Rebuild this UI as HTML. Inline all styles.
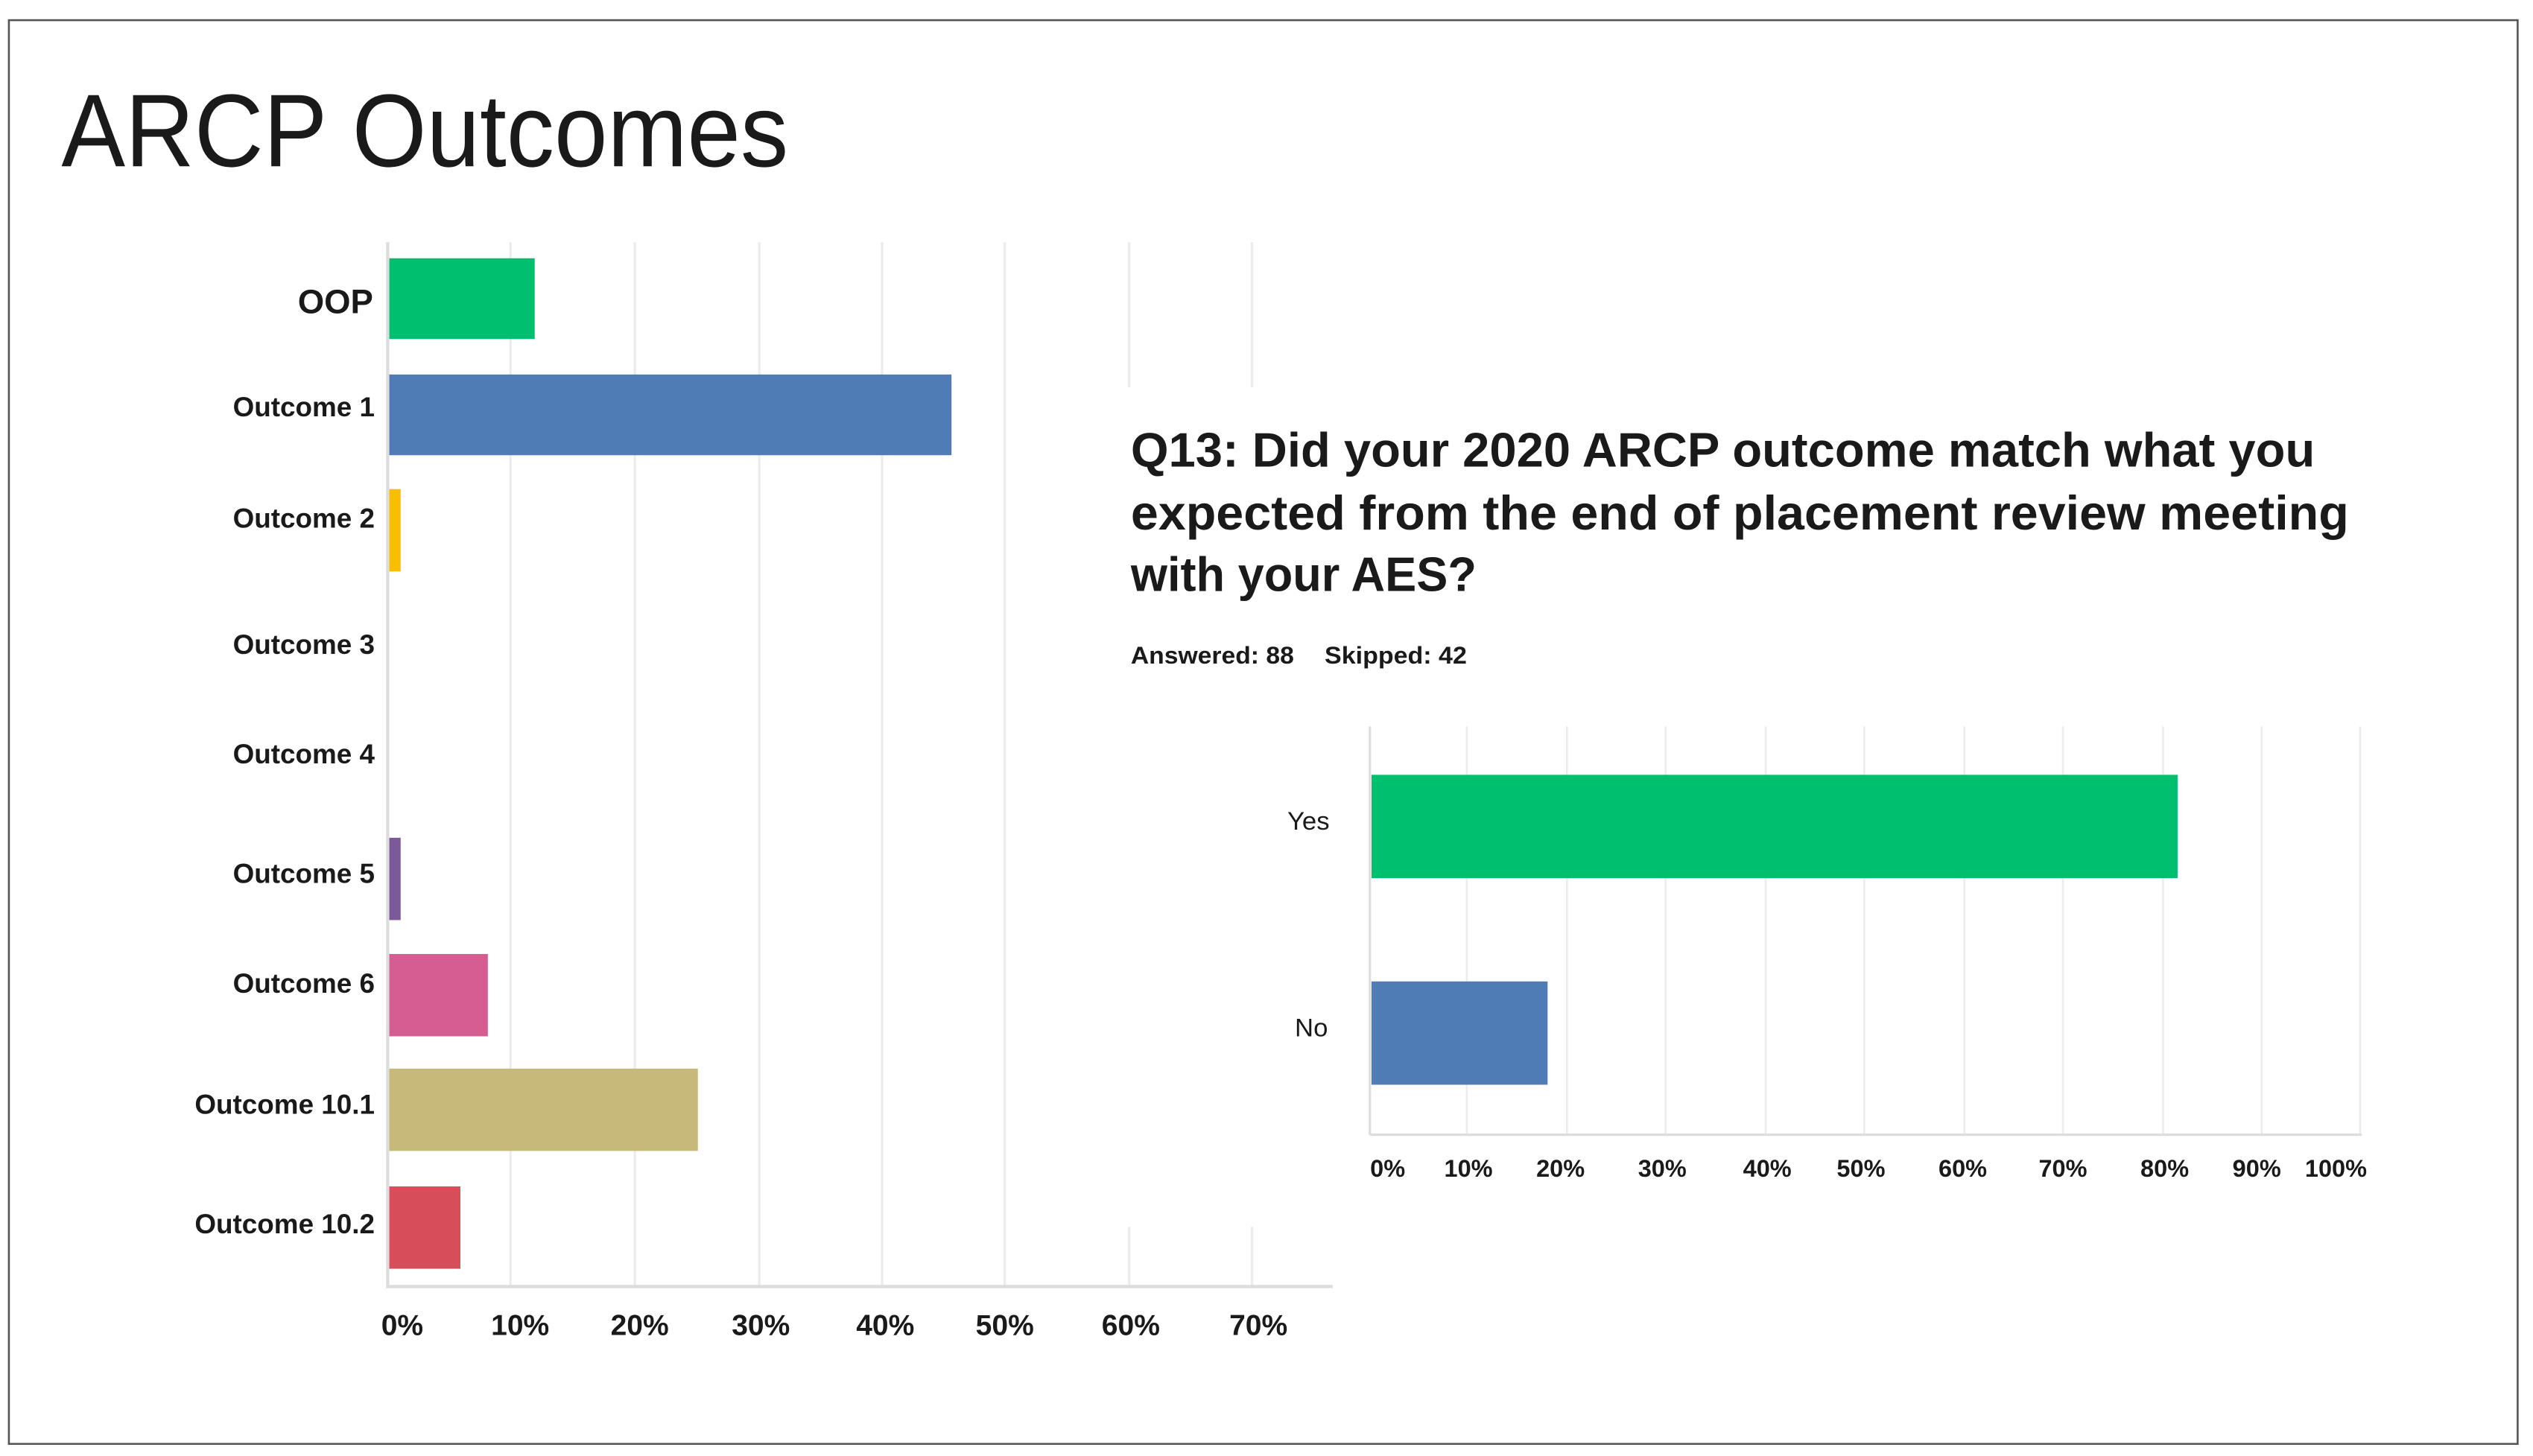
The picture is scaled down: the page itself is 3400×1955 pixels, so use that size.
<!DOCTYPE html>
<html><head><meta charset="utf-8"><style>
html,body{margin:0;padding:0;background:#fff;}
svg{display:block;}
text{font-family:"Liberation Sans",sans-serif;fill:#1a1a1a;}
</style></head><body>
<svg width="3400" height="1955" viewBox="0 0 1568 902" preserveAspectRatio="none" xmlns="http://www.w3.org/2000/svg">
<rect x="0" y="0" width="1568" height="902" fill="#fff"/>
<rect x="5.5" y="12.5" width="1553" height="882" fill="none" stroke="#555" stroke-width="1.2"/>
<text x="38" y="103" font-size="64" textLength="450" lengthAdjust="spacingAndGlyphs">ARCP Outcomes</text>
<g stroke="#ececec" stroke-width="1.5">
<line x1="316" y1="150" x2="316" y2="797"/>
<line x1="393" y1="150" x2="393" y2="797"/>
<line x1="470" y1="150" x2="470" y2="797"/>
<line x1="546" y1="150" x2="546" y2="797"/>
<line x1="622" y1="150" x2="622" y2="797"/>
<line x1="699" y1="150" x2="699" y2="797"/>
<line x1="775" y1="150" x2="775" y2="797"/>
</g>
<rect x="688" y="240" width="140" height="520" fill="#fff"/>
<line x1="240" y1="150" x2="240" y2="798" stroke="#ddd" stroke-width="2"/>
<line x1="240" y1="797" x2="825" y2="797" stroke="#ddd" stroke-width="2"/>
<rect x="241" y="160" width="90" height="50" fill="#00bf6f"/>
<rect x="241" y="232" width="348" height="50" fill="#507cb6"/>
<rect x="241" y="303" width="7" height="51" fill="#f9be00"/>
<rect x="241" y="519" width="7" height="51" fill="#7c5a99"/>
<rect x="241" y="591" width="61" height="51" fill="#d65d91"/>
<rect x="241" y="662" width="191" height="51" fill="#c6b97a"/>
<rect x="241" y="735" width="44" height="51" fill="#d74d5a"/>
<g font-weight="bold" text-anchor="end" font-size="17">
<text x="231" y="194" font-size="21">OOP</text>
<text x="232" y="258">Outcome 1</text>
<text x="232" y="327">Outcome 2</text>
<text x="232" y="405">Outcome 3</text>
<text x="232" y="473">Outcome 4</text>
<text x="232" y="547">Outcome 5</text>
<text x="232" y="615">Outcome 6</text>
<text x="232" y="690">Outcome 10.1</text>
<text x="232" y="764">Outcome 10.2</text>
</g>
<g font-weight="bold" text-anchor="middle" font-size="18">
<text x="249" y="827">0%</text>
<text x="322" y="827">10%</text>
<text x="396" y="827">20%</text>
<text x="471" y="827">30%</text>
<text x="548" y="827">40%</text>
<text x="622" y="827">50%</text>
<text x="700" y="827">60%</text>
<text x="779" y="827">70%</text>
</g>
<g font-weight="bold" font-size="30">
<text x="700" y="289" textLength="733" lengthAdjust="spacingAndGlyphs">Q13: Did your 2020 ARCP outcome match what you</text>
<text x="700" y="328" textLength="754" lengthAdjust="spacingAndGlyphs">expected from the end of placement review meeting</text>
<text x="700" y="366" textLength="214" lengthAdjust="spacingAndGlyphs">with your AES?</text>
</g>
<text x="700" y="411" font-size="15" font-weight="bold" textLength="101" lengthAdjust="spacingAndGlyphs">Answered: 88</text>
<text x="820" y="411" font-size="15" font-weight="bold" textLength="88" lengthAdjust="spacingAndGlyphs">Skipped: 42</text>
<g stroke="#ececec" stroke-width="1.2">
<line x1="908" y1="450" x2="908" y2="703"/>
<line x1="970" y1="450" x2="970" y2="703"/>
<line x1="1031" y1="450" x2="1031" y2="703"/>
<line x1="1093" y1="450" x2="1093" y2="703"/>
<line x1="1154" y1="450" x2="1154" y2="703"/>
<line x1="1216" y1="450" x2="1216" y2="703"/>
<line x1="1277" y1="450" x2="1277" y2="703"/>
<line x1="1339" y1="450" x2="1339" y2="703"/>
<line x1="1400" y1="450" x2="1400" y2="703"/>
<line x1="1461" y1="450" x2="1461" y2="703"/>
</g>
<line x1="848" y1="450" x2="848" y2="703" stroke="#ddd" stroke-width="1.5"/>
<line x1="848" y1="703" x2="1462" y2="703" stroke="#ddd" stroke-width="1.5"/>
<rect x="849" y="480" width="499" height="64" fill="#00bf6f"/>
<rect x="849" y="608" width="109" height="64" fill="#507cb6"/>
<g font-size="16" text-anchor="end">
<text x="823" y="514">Yes</text>
<text x="822" y="642">No</text>
</g>
<g font-size="15" font-weight="bold" text-anchor="middle">
<text x="859" y="729">0%</text>
<text x="909" y="729">10%</text>
<text x="966" y="729">20%</text>
<text x="1029" y="729">30%</text>
<text x="1094" y="729">40%</text>
<text x="1152" y="729">50%</text>
<text x="1215" y="729">60%</text>
<text x="1277" y="729">70%</text>
<text x="1340" y="729">80%</text>
<text x="1397" y="729">90%</text>
<text x="1446" y="729">100%</text>
</g>
</svg>
</body></html>
